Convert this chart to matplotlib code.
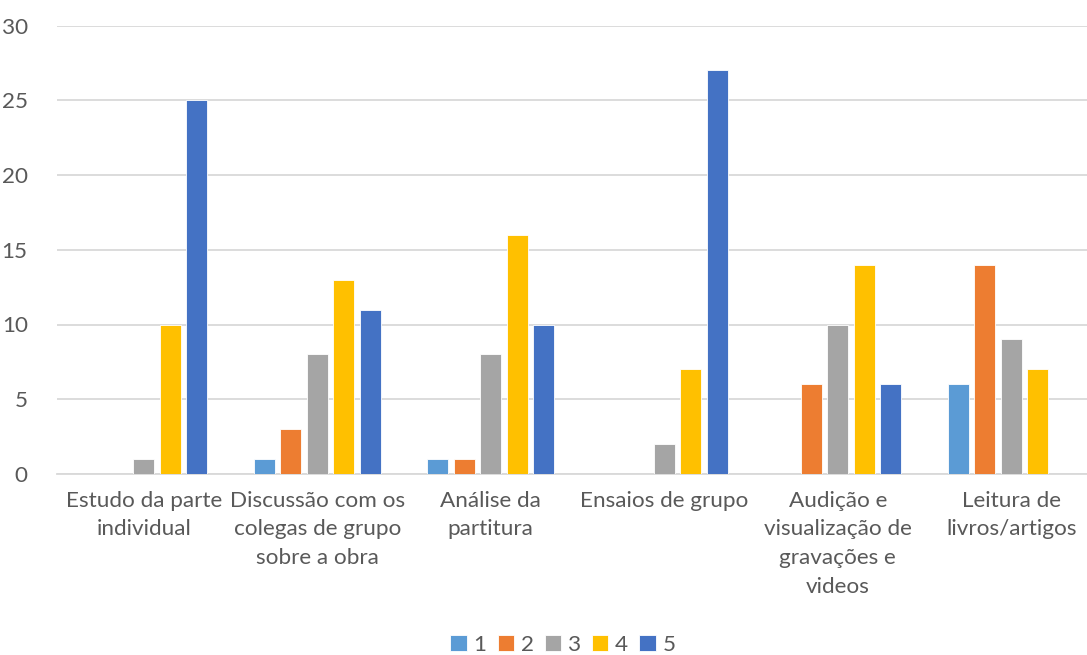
import matplotlib
matplotlib.use("Agg")
import matplotlib.pyplot as plt
import numpy as np

categories = [
    "Estudo da parte\nindividual",
    "Discussão com os\ncolegas de grupo\nsobre a obra",
    "Análise da\npartitura",
    "Ensaios de grupo",
    "Audição e\nvisualização de\ngravações e\nvideos",
    "Leitura de\nlivros/artigos",
]
series_names = ["1", "2", "3", "4", "5"]
values_1 = [0, 1, 1, 0, 0, 6]
values_2 = [0, 3, 1, 0, 6, 14]
values_3 = [1, 8, 8, 2, 10, 9]
values_4 = [10, 13, 16, 7, 14, 7]
values_5 = [25, 11, 10, 27, 6, 0]
yticks = [0, 5, 10, 15, 20, 25, 30]

colors = ["#5B9BD5", "#ED7D31", "#A5A5A5", "#FFC000", "#4472C4"]
text_color = "#595959"

plt.rcParams["font.family"] = ["Lato", "DejaVu Sans"]

W, H = 1087, 655
fig = plt.figure(figsize=(W / 100, H / 100), dpi=100)
left, right = 57, 1098
bottom, top = 474, 25.5
ax = fig.add_axes([left / W, 1 - bottom / H, (right - left) / W, (bottom - top) / H])

x = np.arange(len(categories))
step = 0.153
width = 0.121
all_series = [values_1, values_2, values_3, values_4, values_5]
for i, (vals, name, c) in enumerate(zip(all_series, series_names, colors)):
    ax.bar(x + (i - 2) * step, vals, width, color=c, label=name,
           edgecolor="white", linewidth=0.6, zorder=3)

ax.set_xlim(-0.5, len(categories) - 0.5)
ax.set_ylim(0, 30)
ax.set_yticks(yticks)
ax.set_yticklabels([str(v) for v in yticks])
ax.set_xticks(x)
ax.set_xticklabels(categories, linespacing=1.55)
ax.tick_params(axis="both", length=0, labelsize=16.2, labelcolor=text_color)
ax.tick_params(axis="y", pad=21)
ax.tick_params(axis="x", pad=12)
for lab in ax.get_yticklabels():
    lab.set_horizontalalignment("right")

ax.grid(axis="y", color="#D9D9D9", linewidth=1.3, zorder=0)
for s in ["top", "right", "left"]:
    ax.spines[s].set_visible(False)
ax.spines["bottom"].set_color("#D9D9D9")
ax.spines["bottom"].set_linewidth(1.3)

leg = fig.legend(loc="center", bbox_to_anchor=(563 / W, 1 - 645 / H), ncol=5,
                 frameon=False, fontsize=16.2, handlelength=0.72, handleheight=0.72,
                 handletextpad=0.3, columnspacing=0.5)
for t in leg.get_texts():
    t.set_color(text_color)

fig.savefig("out.png", dpi=100)
